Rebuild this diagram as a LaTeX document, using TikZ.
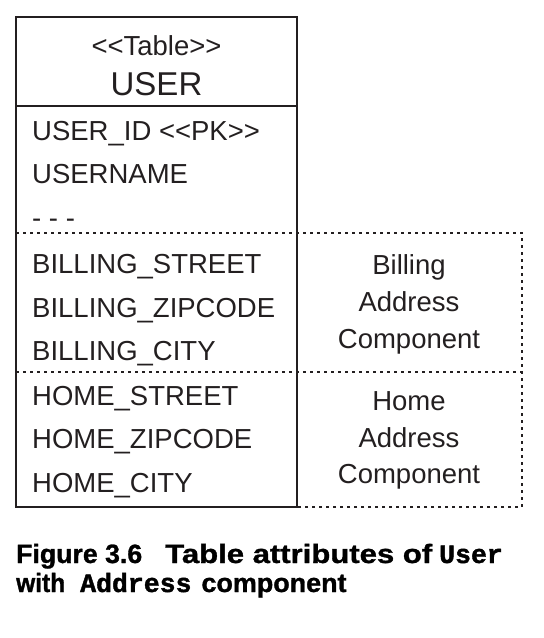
\documentclass[tikz,border=0pt]{standalone}
\usepackage{fontspec}
\usepackage{graphicx}
\setmainfont{Liberation Sans}
\newfontfamily\capfont{Liberation Sans Bold}[FakeStretch=0.85,FakeBold=1]
\newfontfamily\capmono{Liberation Mono Bold}[FakeBold=1.5]
\newcommand{\fitw}[2]{\resizebox{#1}{\height}{#2}}
\definecolor{ink}{HTML}{231F20}
\tikzset{
  rowtxt/.style={anchor=base west,inner sep=0pt,text=ink,font=\fontsize{27.5}{33}\selectfont},
  comptxt/.style={anchor=base,inner sep=0pt,text=ink,font=\fontsize{27.5}{33}\selectfont},
  solidline/.style={draw=ink,line width=2pt},
  dotline/.style={draw=ink,line width=1.8pt,dash pattern=on 2.6pt off 4.4pt},
  captxt/.style={anchor=base west,inner sep=0pt,text=black,font=\capfont\fontsize{26.5}{31}\selectfont}
}
\begin{document}
\begin{tikzpicture}[x=1pt,y=-1pt]
\useasboundingbox (0,0) rectangle (544,638);
% dotted component frames
\coordinate (d1l) at (16,233);
\coordinate (d1r) at (522,233);
\coordinate (d2l) at (16,372);
\coordinate (d2r) at (522,372);
\coordinate (dbl) at (296.5,507);
\coordinate (dbr) at (522,507);
\draw[dotline] (d1l) -- (d1r) -- (dbr) -- (dbl);
\draw[dotline] (d2l) -- (d2r);
% table frame
\coordinate (tl) at (16,17);
\coordinate (br) at (296.5,507);
\coordinate (hl) at (16,106);
\coordinate (hr) at (296.5,106);
\draw[solidline] (tl) rectangle (br);
\draw[solidline] (hl) -- (hr);
% header
\node[comptxt] (stereo) at (156.5,55) {<{}<Table>{}>};
\node[comptxt,font=\fontsize{33}{38}\selectfont] (tname) at (156.5,95) {USER};
% rows
\node[rowtxt] (r1) at (32,140) {USER\_ID <{}<PK>{}>};
\node[rowtxt] (r2) at (32,183.5) {USERNAME};
\node[rowtxt] (r3) at (32,227) {- - -};
\node[rowtxt] (r4) at (32,273) {BILLING\_STREET};
\node[rowtxt] (r5) at (32,317) {BILLING\_ZIPCODE};
\node[rowtxt] (r6) at (32,360) {BILLING\_CITY};
\node[rowtxt] (r7) at (32,405) {HOME\_STREET};
\node[rowtxt] (r8) at (32,448.5) {HOME\_ZIPCODE};
\node[rowtxt] (r9) at (32,492) {HOME\_CITY};
% component labels
\node[comptxt] (b1) at (409,274) {Billing};
\node[comptxt] (b2) at (409,311.5) {Address};
\node[comptxt] (b3) at (409,348) {Component};
\node[comptxt] (h1) at (409,410) {Home};
\node[comptxt] (h2) at (409,447) {Address};
\node[comptxt] (h3) at (409,483.5) {Component};
% caption
\node[captxt] (cap1) at (16,563) {\fitw{126pt}{Figure 3.6}\hspace{23pt}\fitw{267pt}{Table attributes of}\hspace{7pt}{\capmono User}};
\node[captxt] (cap2) at (16,592) {\fitw{49pt}{with}\hspace{15pt}{\capmono Address}\hspace{10pt}\fitw{145pt}{component}};
\end{tikzpicture}
\end{document}
